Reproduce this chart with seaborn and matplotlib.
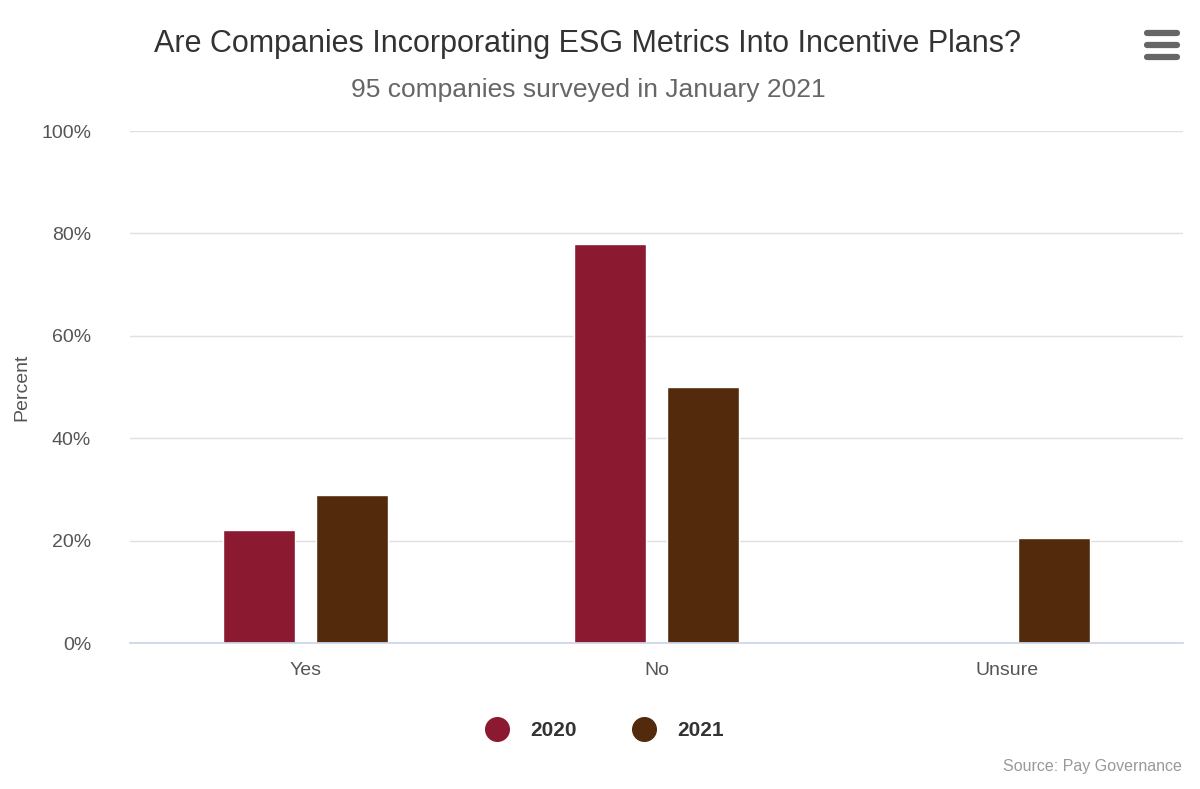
import numpy as np
import pandas as pd
import matplotlib
matplotlib.use('Agg')
import matplotlib.pyplot as plt
from matplotlib.lines import Line2D
import seaborn as sns

categories = ['Yes', 'No', 'Unsure']
years = ['2020', '2021']
vals_2020 = [22, 78, np.nan]
vals_2021 = [29, 50, 20.6]
colors = {'2020': '#8B1A31', '2021': '#532A0C'}

df = pd.DataFrame({
    'answer': categories * 2,
    'year': ['2020'] * 3 + ['2021'] * 3,
    'pct': vals_2020 + vals_2021,
})

sns.set_theme(style='white')
plt.rcParams['font.family'] = ['Liberation Sans', 'DejaVu Sans']

fig = plt.figure(figsize=(12, 7.89), dpi=100)
ax = fig.add_axes([130 / 1200, 1 - 643 / 789, 1053 / 1200, 512 / 789])

sns.barplot(data=df, x='answer', y='pct', hue='year', palette=colors,
            width=0.53, gap=0.22, saturation=1, ax=ax, legend=False)

ax.set_ylim(0, 100)
ax.set_xlim(-0.5, 2.5)
ax.set_yticks(range(0, 101, 20))
ax.set_yticklabels([f'{v}%' for v in range(0, 101, 20)], fontsize=14, color='#555555')
ax.tick_params(axis='x', labelsize=14, labelcolor='#555555', length=0, pad=14)
ax.tick_params(axis='y', length=0, pad=28)
ax.grid(axis='y', color='#e0e0e0', lw=1)
ax.set_axisbelow(True)
for s in ['top', 'right', 'left']:
    ax.spines[s].set_visible(False)
ax.spines['bottom'].set_color('#ccd6eb')
ax.set_xlabel('')
ax.set_ylabel('Percent', fontsize=14, color='#555555', labelpad=8)

fig.text(0.49, 1 - 44 / 789, 'Are Companies Incorporating ESG Metrics Into Incentive Plans?',
         ha='center', va='center', fontsize=22, color='#333333')
fig.text(0.49, 1 - 90 / 789, '95 companies surveyed in January 2021',
         ha='center', va='center', fontsize=19, color='#666666')
fig.text(0.985, 1 - 767 / 789, 'Source: Pay Governance', ha='right', va='center',
         fontsize=11.5, color='#999999')

# hamburger menu icon
for yy in [33, 45, 57]:
    fig.add_artist(Line2D([1147 / 1200, 1177 / 1200], [1 - yy / 789] * 2,
                          color='#666666', lw=4.5, solid_capstyle='round'))

handles = [Line2D([], [], marker='o', ls='', markersize=17, color=colors[y]) for y in years]
leg = fig.legend(handles, years, loc='center', bbox_to_anchor=(0.5, 1 - 731 / 789),
                 ncol=2, frameon=False, fontsize=15, handletextpad=0.6, columnspacing=2.2)
for t in leg.get_texts():
    t.set_fontweight('bold')
    t.set_color('#333333')

fig.savefig('out.png', dpi=100)
